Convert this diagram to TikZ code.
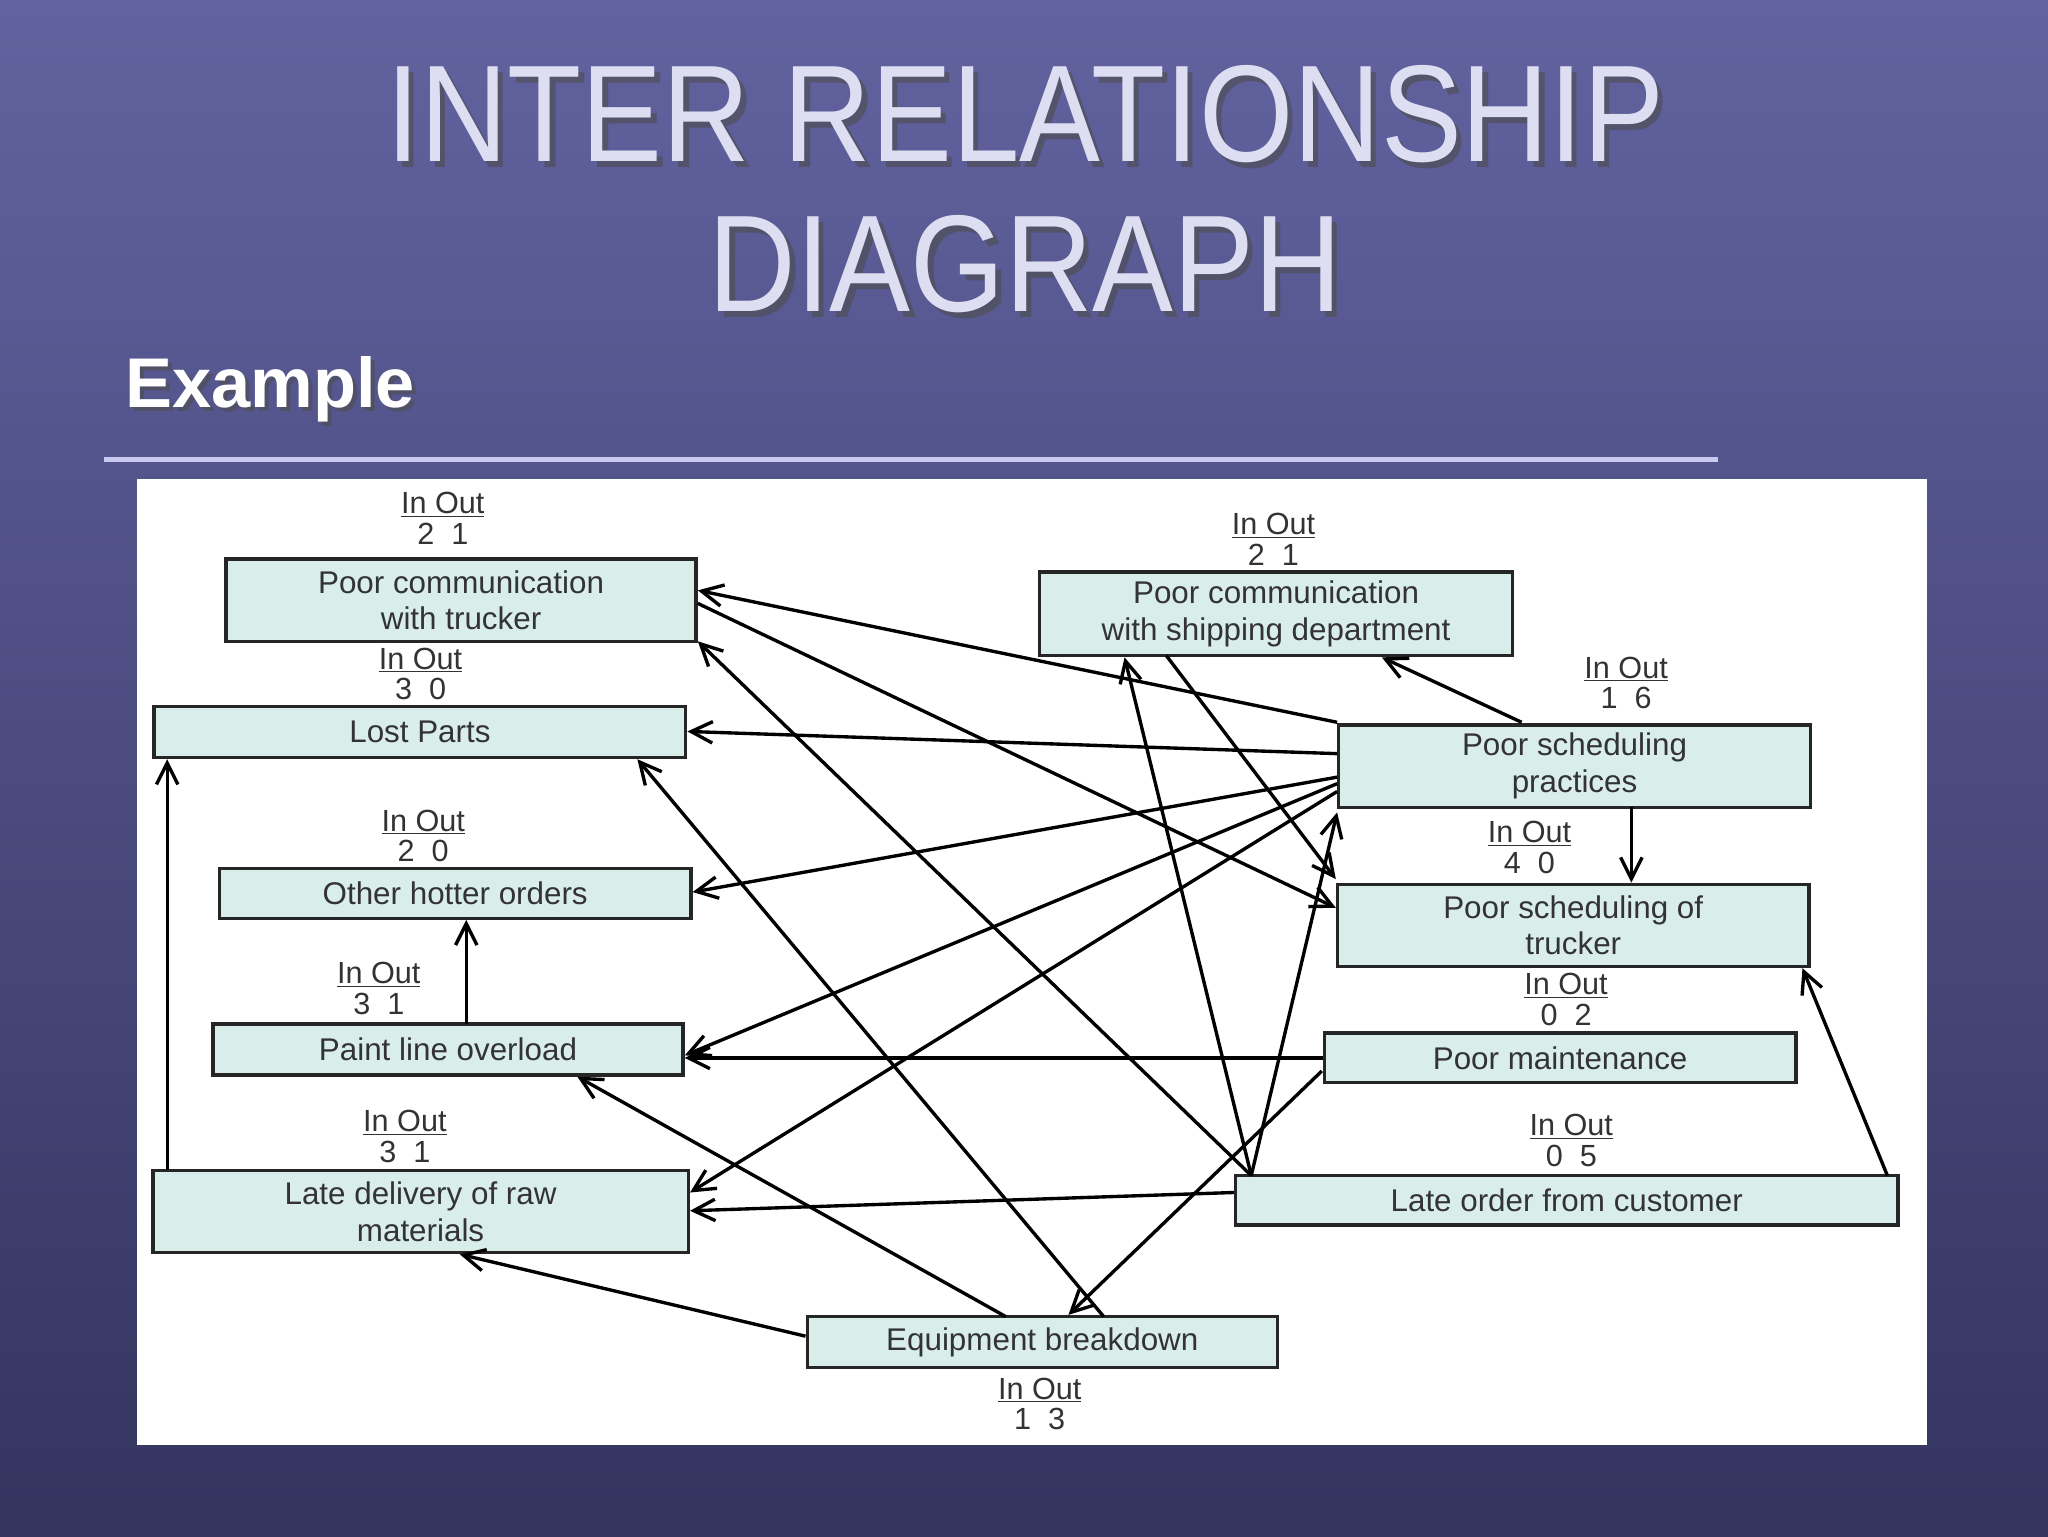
\documentclass[tikz,border=0pt]{standalone}
\usepackage{fontspec}
\setmainfont{Liberation Sans}
\usetikzlibrary{arrows.meta}
\definecolor{bx}{HTML}{D9EEEA}
\definecolor{tx}{HTML}{333333}
\begin{document}
\begin{tikzpicture}[x=0.03cm,y=-0.03cm,
 box/.style={draw=black!85,line width=2.2pt,fill=bx,inner sep=0pt,align=center,font=\fontsize{20.5}{24}\selectfont,text=tx},
 io/.style={font=\fontsize{20}{23}\selectfont,text=tx,align=center},
 ttl/.style={font=\fontsize{90}{96}\selectfont,align=center,xscale=0.88,transform shape},
 ar/.style={line width=2.2pt,-{Straight Barb[length=14pt,width=14pt,line width=2.2pt]}}]
\useasboundingbox (0,0) rectangle (1568,1176);
\shade[top color={rgb,255:red,98;green,98;blue,160},bottom color={rgb,255:red,52;green,52;blue,95}] (0,0) rectangle (1568,1176);
\node[ttl,text=black!70,opacity=0.6] (tsh) at (789,149) {INTER RELATIONSHIP\\[2pt]DIAGRAPH};
\node[ttl,text={rgb,255:red,222;green,222;blue,242}] (title) at (785,145) {INTER RELATIONSHIP\\[2pt]DIAGRAPH};
\node[font=\bfseries\fontsize{46}{50}\selectfont,text=black!70,opacity=0.6,anchor=west] (exs) at (95,301) {Example};
\node[font=\bfseries\fontsize{46}{50}\selectfont,text=white,anchor=west] (ex) at (92,298) {Example};
\draw[line width=3pt,color={rgb,255:red,200;green,200;blue,240}] (80,352) -- (1315,352);
\fill[white] (105,367) rectangle (1475,1106);
\node[box,minimum width=360*0.03cm,minimum height=63*0.03cm] (A) at (353,459.5) {Poor communication\\with trucker};
\node[box,minimum width=407*0.03cm,minimum height=39*0.03cm] (B) at (321.5,560.5) {Lost Parts};
\node[box,minimum width=361*0.03cm,minimum height=38*0.03cm] (C) at (348.5,684) {Other hotter orders};
\node[box,minimum width=360*0.03cm,minimum height=39*0.03cm] (D) at (343,803.5) {Paint line overload};
\node[box,minimum width=410*0.03cm,minimum height=63*0.03cm] (E) at (322,927.5) {Late delivery of raw\\materials};
\node[box,minimum width=360*0.03cm,minimum height=39*0.03cm] (F) at (798,1027.5) {Equipment breakdown};
\node[box,minimum width=362*0.03cm,minimum height=64*0.03cm] (G) at (977,470) {Poor communication\\with shipping department};
\node[box,minimum width=361*0.03cm,minimum height=63*0.03cm] (H) at (1205.5,586.5) {Poor scheduling\\practices};
\node[box,minimum width=361*0.03cm,minimum height=63*0.03cm] (I) at (1204.5,708.5) {Poor scheduling of\\trucker};
\node[box,minimum width=361*0.03cm,minimum height=38*0.03cm] (J) at (1194.5,810) {Poor maintenance};
\node[box,minimum width=507*0.03cm,minimum height=38*0.03cm] (K) at (1199.5,919) {Late order from customer};
\node[io] (lA) at (339,397) {\underline{In Out}\\[-3pt]2\ \ 1};
\node[io] (lB) at (322,516) {\underline{In Out}\\[-3pt]3\ \ 0};
\node[io] (lC) at (324,640) {\underline{In Out}\\[-3pt]2\ \ 0};
\node[io] (lD) at (290,757) {\underline{In Out}\\[-3pt]3\ \ 1};
\node[io] (lE) at (310,870) {\underline{In Out}\\[-3pt]3\ \ 1};
\node[io] (lF) at (796,1075) {\underline{In Out}\\[-3pt]1\ \ 3};
\node[io] (lG) at (975,413) {\underline{In Out}\\[-3pt]2\ \ 1};
\node[io] (lH) at (1245,523) {\underline{In Out}\\[-3pt]1\ \ 6};
\node[io] (lI) at (1171,649) {\underline{In Out}\\[-3pt]4\ \ 0};
\node[io] (lJ) at (1199,765) {\underline{In Out}\\[-3pt]0\ \ 2};
\node[io] (lK) at (1203,873) {\underline{In Out}\\[-3pt]0\ \ 5};
% connectors
\draw[ar] (H.west |- 0,553) -- (A.east |- 0,452);
\draw[ar] (A.east |- 0,462) -- (I.west |- 0,695);
\draw[ar] (H.west |- 0,577) -- (B.east |- 0,560);
\draw[ar] (H.west |- 0,595) -- (C.east |- 0,683);
\draw[ar] (H.west |- 0,600) -- (D.east |- 0,808);
\draw[ar] (H.west |- 0,606) -- (E.east |- 0,913);
\draw[ar] (1165,553) -- (G.south -| 1058,0);
\draw[ar] (1249,618) -- (I.north -| 1249,0);
\draw[ar] (893,502) -- (I.west |- 0,673);
\coordinate (k1) at (958,900);
\draw[ar] (k1) -- (G.south -| 861,0);
\draw[ar] (k1) -- (A.east |- 0,491);
\draw[ar] (k1) -- (H.west |- 0,622);
\draw[ar] (K.west |- 0,913) -- (E.east |- 0,927);
\draw[ar] (1445,900) -- (I.south -| 1380,0);
\draw[ar] (J.west) -- (D.east |- 0,810);
\draw[ar] (1012,820) -- (F.north -| 818,0);
\draw[ar] (845,1008) -- (B.south -| 488,0);
\draw[ar] (770,1008) -- (D.south -| 442,0);
\draw[ar] (F.west |- 0,1023) -- (E.south -| 352,0);
\draw[ar] (128,896) -- (B.south -| 128,0);
\draw[ar] (357,784) -- (C.south -| 357,0);
\end{tikzpicture}
\end{document}
